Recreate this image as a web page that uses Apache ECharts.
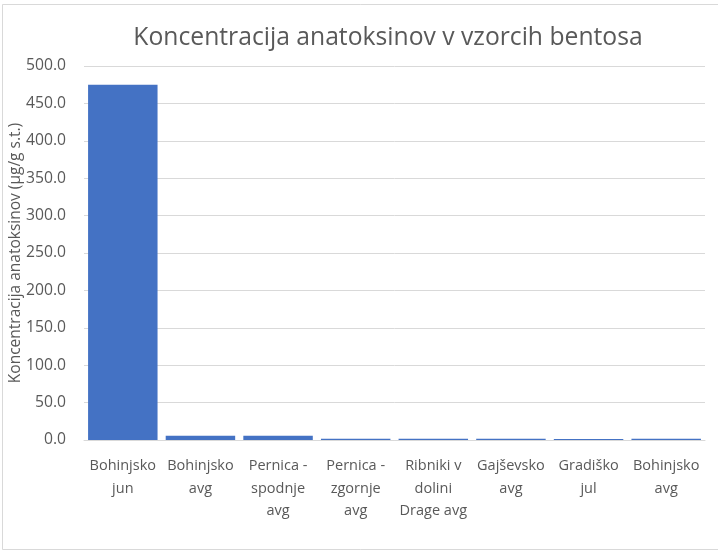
<!DOCTYPE html>
<html>
<head>
<meta charset="utf-8">
<script src="https://cdn.jsdelivr.net/npm/echarts@6/dist/echarts.min.js"></script>
<style>
html,body{margin:0;padding:0;background:#fff;}
#c{width:718px;height:552px;}
</style>
</head>
<body>
<div id="c"></div>
<script>
var categories = ["Bohinjsko\njun", "Bohinjsko\navg", "Pernica -\nspodnje\navg", "Pernica -\nzgornje\navg", "Ribniki v\ndolini\nDrage avg", "Gajševsko\navg", "Gradiško\njul", "Bohinjsko\navg"];
var values = [475.0, 5.8, 5.6, 1.8, 1.6, 1.7, 1.5, 1.6];
var yTicks = {min: 0, max: 500, interval: 50};

var FONT = "Open Sans";
var chart = echarts.init(document.getElementById('c'));
chart.setOption({
  backgroundColor: '#ffffff',
  animation: false,
  graphic: [{
    type: 'rect', silent: true,
    shape: {x: 2.5, y: 4.5, width: 730, height: 545},
    style: {fill: 'none', stroke: '#d9d9d9', lineWidth: 1}
  }],
  title: {
    text: 'Koncentracija anatoksinov v vzorcih bentosa',
    left: 383, textAlign: 'center', top: 20,
    textStyle: {fontFamily: FONT, fontSize: 24.7, fontWeight: 'normal', color: '#595959'}
  },
  grid: {left: 84, right: 13, top: 66, bottom: 112, containLabel: false, outerBoundsMode: 'none'},
  xAxis: {
    type: 'category',
    data: categories,
    axisLine: {lineStyle: {color: '#d9d9d9', width: 1}},
    axisTick: {show: false},
    axisLabel: {interval: 0, fontFamily: FONT, fontSize: 14.5, color: '#595959', lineHeight: 22.5, margin: 15}
  },
  yAxis: {
    type: 'value',
    min: yTicks.min, max: yTicks.max, interval: yTicks.interval,
    name: 'Koncentracija anatoksinov (µg/g s.t.)',
    nameLocation: 'middle', nameGap: 60, nameRotate: 90, nameMoveOverlap: false,
    nameTextStyle: {fontFamily: FONT, fontSize: 15.5, color: '#595959'},
    axisLine: {show: false},
    axisTick: {show: false},
    splitLine: {lineStyle: {color: '#d9d9d9', width: 1}},
    axisLabel: {fontFamily: FONT, fontSize: 15.7, color: '#595959', margin: 18,
      formatter: function (v) { return v.toFixed(1); }}
  },
  series: [{
    type: 'bar',
    data: values,
    barCategoryGap: '10.5%',
    itemStyle: {color: '#4472C4'}
  }]
});
</script>
</body>
</html>
